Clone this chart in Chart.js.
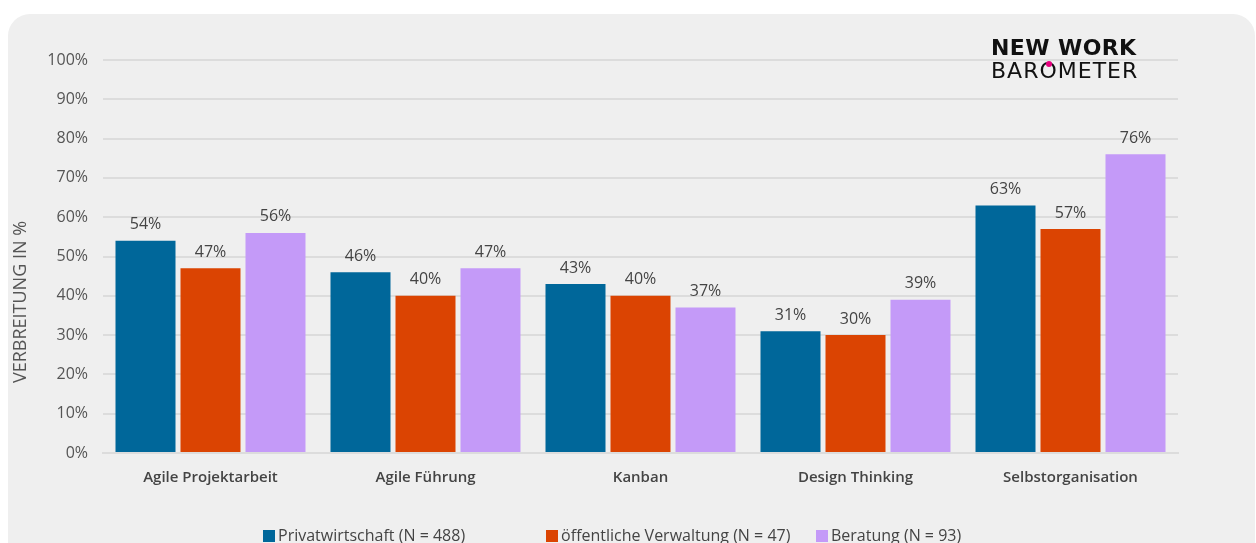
<!DOCTYPE html>
<html>
<head>
<meta charset="utf-8">
<script src="https://cdn.jsdelivr.net/npm/chart.js@4"></script>
<style>
  html, body { margin: 0; padding: 0; background: #fff; width: 1256px; height: 543px; overflow: hidden; }
  .panel { position: absolute; left: 8px; top: 14px; width: 1247px; height: 560px; background: #efefef; border-radius: 22px 22px 0 0; }
  .panel canvas { position: absolute; left: 0; top: 0; }
  .logo { position: absolute; left: 983px; top: 23px; font-family: "DejaVu Sans", sans-serif; color: #111; line-height: 1; }
  .logo .a { font-weight: bold; font-size: 22px; letter-spacing: 0.4px; }
  .logo .b { font-size: 22px; font-weight: normal; letter-spacing: 1px; margin-top: 1px; font-family: "DejaVu Sans", sans-serif; }
  .logo .o { position: relative; }
  .logo .o::after { content: ""; position: absolute; left: 7px; top: 3px; width: 6px; height: 6px; border-radius: 50%; background: #e6007e; }
</style>
</head>
<body>
<div class="panel">
  <canvas id="myChart" width="1247" height="560"></canvas>
  <div class="logo"><div class="a">NEW WORK</div><div class="b">BAR<span class="o">O</span>METER</div></div>
</div>
<script>
const categories = ['Agile Projektarbeit', 'Agile Führung', 'Kanban', 'Design Thinking', 'Selbstorganisation'];
const privatwirtschaft = [54, 46, 43, 31, 63];
const verwaltung = [47, 40, 40, 30, 57];
const beratung = [56, 47, 37, 39, 76];
const seriesLabels = ['Privatwirtschaft (N = 488)', 'öffentliche Verwaltung (N = 47)', 'Beratung (N = 93)'];
const seriesColors = ['#00679a', '#db4402', '#c49af8'];
const yTicks = [0, 10, 20, 30, 40, 50, 60, 70, 80, 90, 100];
const yTitle = 'VERBREITUNG IN %';

const ctx = document.getElementById('myChart');
const fontFam = '"Open Sans", Lato, sans-serif';

// value labels, axis title and a fixed-slot legend (like the Excel original)
const extras = {
  id: 'extras',
  afterDatasetsDraw(chart) {
    const c = chart.ctx;
    const area = chart.chartArea;
    c.save();
    c.font = '16px ' + fontFam;
    c.fillStyle = '#444';
    c.textAlign = 'center';
    c.textBaseline = 'bottom';
    chart.data.datasets.forEach((ds, i) => {
      chart.getDatasetMeta(i).data.forEach((bar, j) => {
        c.fillText(ds.data[j] + '%', bar.x, bar.y - 8);
      });
    });

    // legend
    const slots = [160, 443, 713];
    const ly = area.bottom + 83;
    c.textAlign = 'left';
    c.textBaseline = 'middle';
    c.font = '16px ' + fontFam;
    chart.data.datasets.forEach((ds, i) => {
      const x = area.left + slots[i];
      c.fillStyle = ds.backgroundColor;
      c.fillRect(x, ly - 6, 12, 12);
      c.fillStyle = '#444';
      c.fillText(ds.label, x + 15, ly);
    });

    c.translate(13, area.bottom - 151);
    c.rotate(-Math.PI / 2);
    c.font = '18px ' + fontFam;
    c.fillStyle = '#555';
    c.textAlign = 'center';
    c.fillText(yTitle, 0, 0);
    c.restore();
  }
};

new Chart(ctx, {
  type: 'bar',
  data: {
    labels: categories,
    datasets: [
      { label: seriesLabels[0], data: privatwirtschaft, backgroundColor: seriesColors[0] },
      { label: seriesLabels[1], data: verwaltung, backgroundColor: seriesColors[1] },
      { label: seriesLabels[2], data: beratung, backgroundColor: seriesColors[2] }
    ]
  },
  options: {
    responsive: false,
    animation: false,
    categoryPercentage: 0.907,
    barPercentage: 0.923,
    layout: { padding: { top: 46, right: 77, left: 0, bottom: 81 } },
    scales: {
      y: {
        min: 0,
        max: 100,
        afterBuildTicks: (s) => { s.ticks = yTicks.map(v => ({ value: v })); },
        afterFit: (s) => { s.width = 95; },
        ticks: { callback: (v) => v + '%', color: '#555', font: { family: fontFam, size: 16 }, padding: 15 },
        grid: { color: '#dcdcdc', lineWidth: 2, drawTicks: false },
        border: { display: false }
      },
      x: {
        afterFit: (s) => { s.height = 40; },
        ticks: { color: '#444', font: { family: fontFam, size: 15, weight: '600' }, padding: 8 },
        grid: { display: false },
        border: { color: '#dcdcdc', width: 2 }
      }
    },
    plugins: {
      legend: { display: false },
      tooltip: { enabled: false }
    }
  },
  plugins: [extras]
});
</script>
</body>
</html>
